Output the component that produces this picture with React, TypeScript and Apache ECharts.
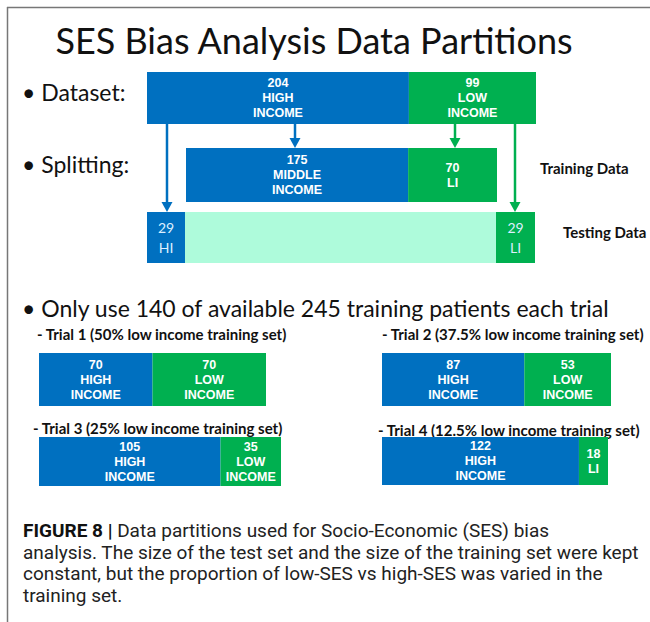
import React, { useEffect, useRef } from "react";
import * as echarts from "echarts";

// ---- data ----
const datasetNames = ["HIGH\nINCOME", "LOW\nINCOME"];
const datasetValues = [204, 99];
const trainingNames = ["MIDDLE\nINCOME", "LI"];
const trainingValues = [175, 70];
const testingNames = ["HI", "LI"];
const testingValues = [29, 29];
const trialTitles = [
  "- Trial 1 (50% low income training set)",
  "- Trial 2 (37.5% low income training set)",
  "- Trial 3 (25% low income training set)",
  "- Trial 4 (12.5% low income training set)",
];
const trialHigh = [70, 87, 105, 122];
const trialLow = [70, 53, 35, 18];
const trialHighNames = ["HIGH\nINCOME", "HIGH\nINCOME", "HIGH\nINCOME", "HIGH\nINCOME"];
const trialLowNames = ["LOW\nINCOME", "LOW\nINCOME", "LOW\nINCOME", "LI"];
const captionLines = [
  "analysis. The size of the test set and the size of the training set were kept",
  "constant, but the proportion of low-SES vs high-SES was varied in the",
  "training set.",
];

const BLUE = "#0070C0";
const GREEN = "#00B050";
const MINT = "#AEFBDB";
const SLIDE_FONT = "Lato, 'Open Sans', sans-serif";
const BAR_FONT = "'Liberation Sans', Arial, sans-serif";
const CAP_FONT = "'Roboto', 'Liberation Sans', sans-serif";

type Box = { left: number; top: number; width: number; height: number };

export default function App() {
  const ref = useRef<HTMLDivElement>(null);
  useEffect(() => {
    if (!ref.current) return;
    const chart = echarts.init(ref.current, null, { renderer: "svg" });

    const grids: any[] = [];
    const xAxes: any[] = [];
    const yAxes: any[] = [];
    const series: any[] = [];

    const barLabel = {
      show: true,
      position: "inside",
      color: "#ffffff",
      fontFamily: BAR_FONT,
      fontWeight: "bold",
      fontSize: 12.5,
      lineHeight: 15,
    };
    const testLabel = {
      show: true,
      position: "inside",
      color: "#dcefff",
      fontFamily: SLIDE_FONT,
      fontWeight: "normal",
      fontSize: 14,
      lineHeight: 20,
    };

    const addRow = (box: Box, values: number[], names: string[], colors: string[], label: any) => {
      const gi = grids.length;
      grids.push({ ...box, containLabel: false });
      const total = values.reduce((a, b) => a + b, 0);
      xAxes.push({ type: "value", gridIndex: gi, min: 0, max: total, show: false });
      yAxes.push({ type: "category", gridIndex: gi, data: ["row"], show: false });
      values.forEach((v, i) => {
        series.push({
          type: "bar",
          name: names[i],
          xAxisIndex: gi,
          yAxisIndex: gi,
          stack: "s" + gi,
          barWidth: "100%",
          data: [v],
          itemStyle: { color: colors[i] },
          label: { ...label, formatter: (p: any) => p.value + "\n" + names[i] },
        });
      });
    };

    addRow({ left: 147, top: 72, width: 389, height: 52 }, datasetValues, datasetNames, [BLUE, GREEN], barLabel);
    addRow({ left: 186, top: 148, width: 311, height: 54 }, trainingValues, trainingNames, [BLUE, GREEN], barLabel);
    addRow({ left: 147, top: 212, width: 38, height: 51 }, [testingValues[0]], [testingNames[0]], [BLUE], testLabel);
    addRow({ left: 496, top: 212, width: 39, height: 51 }, [testingValues[1]], [testingNames[1]], [GREEN], testLabel);

    const trialBoxes: Box[] = [
      { left: 39, top: 353, width: 227, height: 53 },
      { left: 382, top: 353, width: 229, height: 53 },
      { left: 39, top: 437, width: 242, height: 49 },
      { left: 382, top: 437, width: 226, height: 48 },
    ];
    trialHigh.forEach((h, i) => {
      addRow(trialBoxes[i], [h, trialLow[i]], [trialHighNames[i], trialLowNames[i]], [BLUE, GREEN], barLabel);
    });

    const txt = (x: number, y: number, text: string, size: number, opts: any = {}) => ({
      type: "text",
      x,
      y,
      silent: true,
      style: {
        text,
        fontSize: size,
        fontFamily: SLIDE_FONT,
        fontWeight: "normal",
        fill: "#111111",
        align: "left",
        verticalAlign: "middle",
        textAlign: "left",
        textVerticalAlign: "middle",
        ...opts,
      },
    });

    const arrow = (x: number, y1: number, y2: number, color: string) => [
      { type: "line", silent: true, shape: { x1: x, y1, x2: x, y2: y2 - 8 }, style: { stroke: color, lineWidth: 2.5 } },
      {
        type: "polygon",
        silent: true,
        shape: { points: [[x - 5.5, y2 - 10], [x + 5.5, y2 - 10], [x, y2]] },
        style: { fill: color },
      },
    ];

    const graphic: any[] = [
      { type: "rect", silent: true, shape: { x: 0, y: 0, width: 650, height: 622 }, style: { fill: "#ffffff" }, z: -10 },
      { type: "line", silent: true, shape: { x1: 7.5, y1: 7, x2: 7.5, y2: 622 }, style: { stroke: "#777", lineWidth: 1.5 } },
      { type: "line", silent: true, shape: { x1: 7, y1: 7.5, x2: 650, y2: 7.5 }, style: { stroke: "#777", lineWidth: 1.5 } },
      { type: "rect", silent: true, shape: { x: 185, y: 212, width: 311, height: 51 }, style: { fill: MINT } },
      txt(314, 40, "SES Bias Analysis Data Partitions", 36, { align: "center", textAlign: "center" }),
      txt(22, 92, "• Dataset:", 23),
      txt(22, 164, "• Splitting:", 23),
      txt(540, 168, "Training Data", 15, { fontWeight: "bold" }),
      txt(563, 232, "Testing Data", 15, { fontWeight: "bold" }),
      txt(22, 308, "• Only use 140 of available 245 training patients each trial", 23),
      txt(37, 334, trialTitles[0], 15, { fontWeight: "bold" }),
      txt(382, 334, trialTitles[1], 15, { fontWeight: "bold" }),
      txt(33, 428, trialTitles[2], 15, { fontWeight: "bold" }),
      txt(378, 430, trialTitles[3], 15, { fontWeight: "bold" }),
      ...arrow(167, 124, 212, BLUE),
      ...arrow(295, 124, 148, BLUE),
      ...arrow(455, 124, 148, GREEN),
      ...arrow(515, 124, 212, GREEN),
      {
        type: "text",
        x: 23,
        y: 530,
        silent: true,
        style: {
          text: "{b|FIGURE 8 |} Data partitions used for Socio-Economic (SES) bias",
          fontSize: 19,
          fontFamily: CAP_FONT,
          fill: "#222222",
          align: "left",
          verticalAlign: "middle",
          rich: { b: { fontWeight: "bold", fontSize: 19, fontFamily: CAP_FONT, fill: "#111111" } },
        },
      },
      ...captionLines.map((line, i) =>
        txt(23, 552 + i * 21.5, line, 19, { fontFamily: CAP_FONT, fill: "#222222" })
      ),
    ];

    chart.setOption({
      animation: false,
      backgroundColor: "#ffffff",
      grid: grids,
      xAxis: xAxes,
      yAxis: yAxes,
      series,
      graphic,
    });
    return () => chart.dispose();
  }, []);
  return (
    <div
      ref={ref}
      style={{ position: "fixed", left: 0, top: 0, width: 650, height: 622, background: "#fff" }}
    />
  );
}
